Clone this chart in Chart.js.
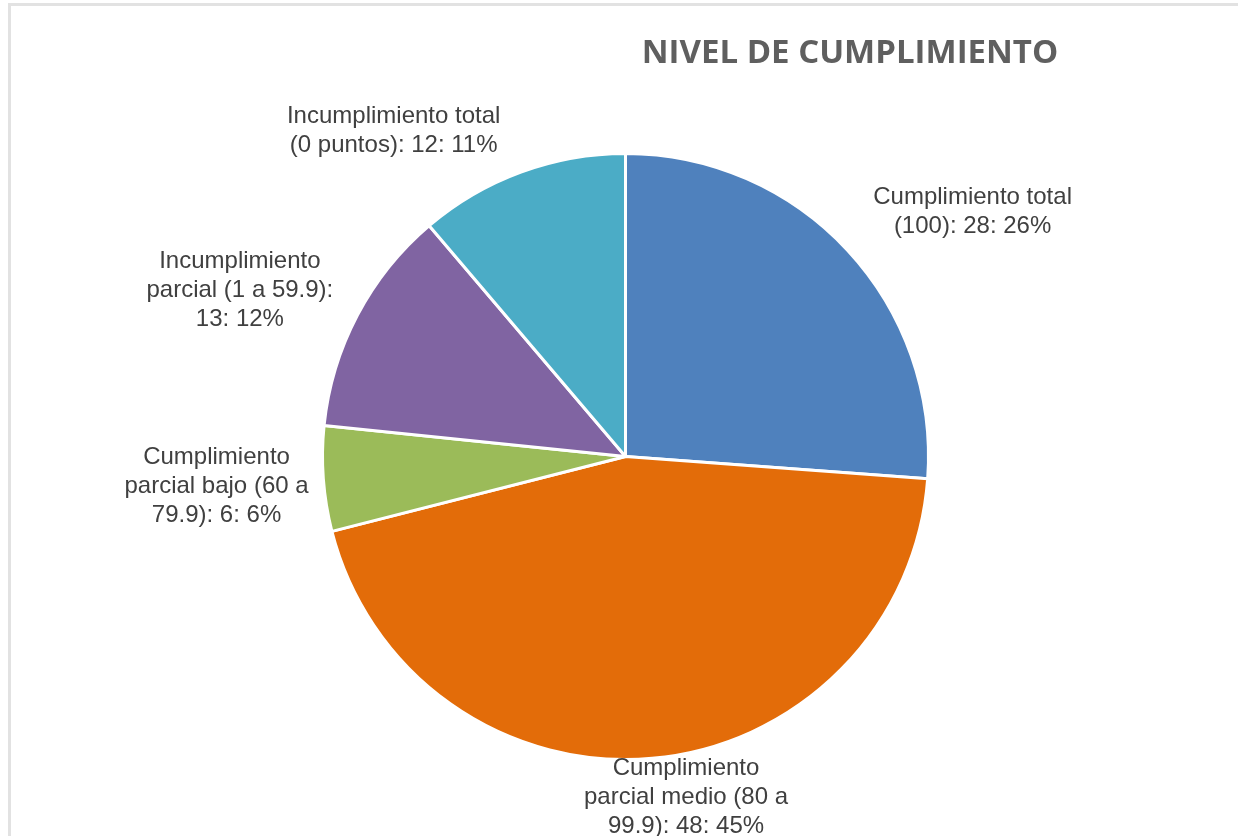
<!DOCTYPE html>
<html>
<head>
<meta charset="utf-8">
<script src="https://cdn.jsdelivr.net/npm/chart.js@4.4.1/dist/chart.umd.min.js"></script>
<style>
  html, body { margin: 0; padding: 0; background: #fff; }
  #wrap { position: relative; width: 1238px; height: 836px; overflow: hidden; }
  #frame {
    position: absolute; left: 8px; top: 3px; right: -10px; bottom: -10px;
    border-left: 3px solid #e2e2e2; border-top: 3px solid #e2e2e2;
  }
  canvas { position: absolute; left: 0; top: 0; }
</style>
</head>
<body>
<div id="wrap">
  <div id="frame"></div>
  <canvas id="chart" width="1238" height="836"></canvas>
</div>
<script>
// categories, clockwise from 12 o'clock
const categories = [
  ["Cumplimiento total", "(100)"],
  ["Cumplimiento", "parcial medio (80 a", "99.9)"],
  ["Cumplimiento", "parcial bajo (60 a", "79.9)"],
  ["Incumplimiento", "parcial (1 a 59.9):"],
  ["Incumplimiento total", "(0 puntos)"]
];
const counts = [28, 48, 6, 13, 12];
const sliceColors = ["#4f81bd", "#e36c09", "#9bbb59", "#8064a2", "#4bacc6"];

const titleText = "NIVEL DE CUMPLIMIENTO";

// label nudges (px) from the outside-end anchor, to follow Excel's best fit
const labelNudge = [[45, -12], [24, -14], [-5, 4], [-26, 0], [-87, -5]];

function labelLines(i, pct) {
  const c = categories[i].slice();
  const tail = counts[i] + ": " + pct + "%";
  const last = c[c.length - 1];
  if (last.endsWith(":")) {
    c.push(tail);
  } else {
    c[c.length - 1] = last + ": " + tail;
  }
  return c;
}

const pieLabels = {
  id: "pieLabels",
  afterDatasetsDraw(chart) {
    const ctx = chart.ctx;
    const meta = chart.getDatasetMeta(0);
    const total = counts.reduce((a, b) => a + b, 0);
    const lh = 29;
    ctx.save();
    ctx.font = "24px 'Liberation Sans', Arial, sans-serif";
    ctx.fillStyle = "#404040";
    ctx.textAlign = "center";
    ctx.textBaseline = "middle";
    meta.data.forEach((arc, i) => {
      const p = arc.getProps(["x", "y", "startAngle", "endAngle", "outerRadius"], true);
      const mid = (p.startAngle + p.endAngle) / 2;
      const r = p.outerRadius + 10;
      const ax = p.x + Math.cos(mid) * r;
      const ay = p.y + Math.sin(mid) * r;
      const lines = labelLines(i, Math.round(counts[i] / total * 100));
      const w = Math.max(...lines.map(l => ctx.measureText(l).width));
      const h = lines.length * lh;
      const cx = ax + Math.cos(mid) * w / 2 + labelNudge[i][0];
      const cy = ay + Math.sin(mid) * h / 2 + labelNudge[i][1];
      lines.forEach((l, k) => {
        ctx.fillText(l, cx, cy - h / 2 + lh / 2 + k * lh);
      });
    });
    ctx.restore();
  }
};

const titlePlugin = {
  id: "titleText",
  afterDraw(chart) {
    const ctx = chart.ctx;
    ctx.save();
    ctx.font = "bold 33px 'Open Sans', sans-serif";
    ctx.fillStyle = "#5f5f5f";
    ctx.textAlign = "center";
    ctx.textBaseline = "middle";
    ctx.fillText(titleText, 850, 54);
    ctx.restore();
  }
};

new Chart(document.getElementById("chart"), {
  type: "pie",
  data: {
    labels: categories.map(c => c.join(" ")),
    datasets: [{
      data: counts,
      backgroundColor: sliceColors,
      borderColor: "#ffffff",
      borderWidth: 3
    }]
  },
  options: {
    responsive: false,
    animation: false,
    layout: { padding: { left: 321, right: 308, top: 152, bottom: 75 } },
    plugins: {
      legend: { display: false },
      title: { display: false },
      tooltip: { enabled: false }
    }
  },
  plugins: [pieLabels, titlePlugin]
});
</script>
</body>
</html>
